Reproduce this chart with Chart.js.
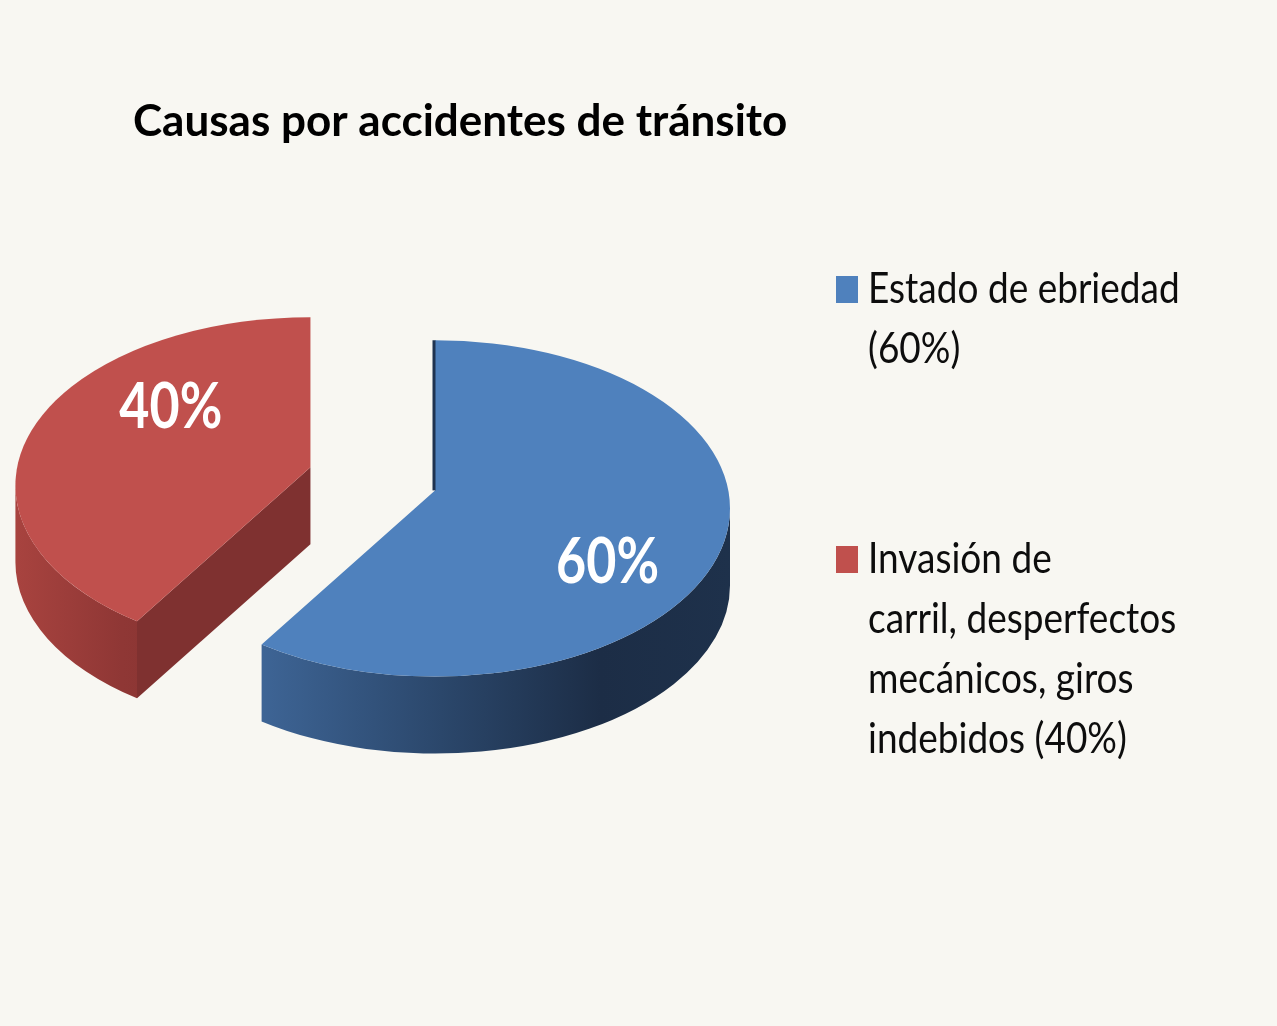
<!DOCTYPE html>
<html>
<head>
<meta charset="utf-8">
<title>Causas por accidentes de tránsito</title>
<script src="https://cdn.jsdelivr.net/npm/chart.js@4.4.0/dist/chart.umd.min.js"></script>
<style>
  html, body { margin: 0; padding: 0; background: #f8f7f2; }
  #wrap { width: 1277px; height: 1026px; position: relative; }
  canvas { display: block; }
</style>
</head>
<body>
<div id="wrap"><canvas id="pieChart"></canvas></div>
<script>
// data
const categories = [
    ['Estado de ebriedad', '(60%)'],
    ['Invasión de', 'carril, desperfectos', 'mecánicos, giros', 'indebidos (40%)']
];
const shares = [60, 40];
const sliceLabels = ['60%', '40%'];
const explode = [0, 131];

const topColors = ['#4f81bd', '#c0504d'];
const sideStops = [
    [[0, '#4570a3'], [0.2, '#3e6596'], [0.51, '#2b476b'], [0.78, '#1c2d46'], [1, '#1e314b']],
    [[0, '#a8433f'], [0.18, '#8f3735'], [1, '#5a2220']]
];
const cutColors = ['#1f3350', '#7f3130'];

const FONT = 'Lato, "Open Sans", sans-serif';

// text is a bit taller than the font in the original, so stretch it vertically
function tallText(ctx, text, x, y, sy) {
    ctx.save();
    ctx.translate(x, y);
    ctx.scale(1, sy);
    ctx.fillText(text, 0, 0);
    ctx.restore();
}

// fake 3D: draws the pie arcs as tilted ellipses with a wall under them
const pie3d = {
    id: 'pie3d',
    beforeDatasetsDraw(chart, args, opts) {
        const ctx = chart.ctx;
        const meta = chart.getDatasetMeta(0);
        const k = opts.tilt, depth = opts.depth;

        const slices = meta.data.map((arc, i) => {
            const p = arc.getProps(['x', 'y', 'startAngle', 'endAngle', 'outerRadius'], true);
            const half = (p.startAngle + p.endAngle) / 2;
            const off = arc.options.offset || 0;
            const cx = p.x + Math.cos(half) * off;
            const cy = p.y + Math.sin(half) * off * k;
            return {
                i, arc, half, cx, cy,
                sa: p.startAngle, ea: p.endAngle,
                rx: p.outerRadius,
                ry: p.outerRadius * k,
                ax: cx, ay: cy - opts.apexLift   // perspective puts the tip a little higher
            };
        });

        slices.forEach(s => {
            // radial cut faces
            [[s.sa, s.sa - Math.PI / 2], [s.ea, s.ea + Math.PI / 2]].forEach(([a, n]) => {
                if (Math.sin(n) < 0.05) return;
                const px = s.cx + s.rx * Math.cos(a), py = s.cy + s.ry * Math.sin(a);
                ctx.beginPath();
                ctx.moveTo(s.ax, s.ay);
                ctx.lineTo(px, py);
                ctx.lineTo(px, py + depth);
                ctx.lineTo(s.ax, s.ay + depth);
                ctx.closePath();
                ctx.fillStyle = cutColors[s.i];
                ctx.fill();
            });

            // outer wall, only the front half shows
            const grad = ctx.createLinearGradient(s.cx - s.rx, 0, s.cx + s.rx, 0);
            sideStops[s.i].forEach(([t, c]) => grad.addColorStop(t, c));
            for (let n = -1; n <= 1; n++) {
                const a0 = Math.max(s.sa, n * 2 * Math.PI);
                const a1 = Math.min(s.ea, n * 2 * Math.PI + Math.PI);
                if (a1 <= a0) continue;
                ctx.beginPath();
                ctx.ellipse(s.cx, s.cy, s.rx, s.ry, 0, a0, a1, false);
                ctx.lineTo(s.cx + s.rx * Math.cos(a1), s.cy + s.ry * Math.sin(a1) + depth);
                ctx.ellipse(s.cx, s.cy + depth, s.rx, s.ry, 0, a1, a0, true);
                ctx.closePath();
                ctx.fillStyle = grad;
                ctx.fill();
            }

            // top face
            ctx.beginPath();
            ctx.moveTo(s.ax, s.ay);
            ctx.ellipse(s.cx, s.cy, s.rx, s.ry, 0, s.sa, s.ea, false);
            ctx.closePath();
            ctx.fillStyle = s.arc.options.backgroundColor;
            ctx.fill();

            // edge-on cut at 12 o'clock shows as a thin dark sliver
            if (Math.abs(Math.cos(s.sa)) < 0.01) {
                ctx.beginPath();
                ctx.moveTo(s.ax - 1, s.ay);
                ctx.lineTo(s.cx - 1, s.cy - s.ry);
                ctx.strokeStyle = cutColors[s.i];
                ctx.lineWidth = 3;
                ctx.stroke();
            }
        });

        // percentage labels
        ctx.save();
        ctx.fillStyle = '#ffffff';
        ctx.font = 'bold 52px ' + FONT;
        ctx.textAlign = 'center';
        ctx.textBaseline = 'middle';
        slices.forEach(s => {
            const f = opts.labelRadius;
            const nudge = opts.labelNudge[s.i];
            const x = s.cx + s.rx * f * Math.cos(s.half) + nudge[0];
            const y = s.cy + s.ry * f * Math.sin(s.half) + nudge[1];
            tallText(ctx, sliceLabels[s.i], x, y, 1.2);
        });
        ctx.restore();
        return false;
    }
};

// legend as its own layout box on the right, so the title can use the full width
const LEGEND_W = 540;
const sideLegend = {
    id: 'sideLegend',
    beforeInit(chart) {
        const box = {
            position: 'right',
            weight: 0,
            fullSize: false,
            options: {},
            left: 0, top: 0, right: 0, bottom: 0, width: 0, height: 0,
            isHorizontal() { return false; },
            update(maxWidth, maxHeight) {
                this.width = LEGEND_W;
                this.height = maxHeight;
            },
            draw() {
                const opts = chart.options.plugins.sideLegend;
                const ctx = chart.ctx;
                const colors = chart.data.datasets[0].backgroundColor;
                ctx.save();
                ctx.font = '37px ' + FONT;
                ctx.textBaseline = 'middle';
                ctx.textAlign = 'left';
                let y = opts.y;
                chart.data.labels.forEach((lines, i) => {
                    ctx.fillStyle = colors[i];
                    ctx.fillRect(this.left + opts.boxX, y - 13, 22, 27);
                    ctx.fillStyle = '#0d0d0d';
                    lines.forEach((line, j) => {
                        tallText(ctx, line, this.left + opts.textX, y + j * opts.lineHeight, 1.17);
                    });
                    y += lines.length * opts.lineHeight + opts.itemGap;
                });
                ctx.restore();
            }
        };
        Chart.layouts.addBox(chart, box);
    }
};

const ctx = document.getElementById('pieChart').getContext('2d');
new Chart(ctx, {
    type: 'pie',
    data: {
        labels: categories,
        datasets: [{
            data: shares,
            backgroundColor: topColors,
            offset: explode,
            radius: 295,
            borderWidth: 0
        }]
    },
    options: {
        responsive: true,
        maintainAspectRatio: false,
        animation: false,
        events: [],
        layout: { padding: { left: 133, right: 0, top: 95, bottom: 178 } },
        plugins: {
            legend: { display: false },
            tooltip: { enabled: false },
            title: {
                display: true,
                text: 'Causas por accidentes de tránsito',
                align: 'start',
                color: '#000000',
                font: { family: FONT, size: 44, weight: 'bold', lineHeight: 1.2 },
                padding: { top: 0, bottom: 21 }
            },
            pie3d: {
                tilt: 0.57,
                depth: 77,
                apexLift: 18,
                labelRadius: 0.665,
                labelNudge: [[-14, 20], [47, -43]]
            },
            sideLegend: { boxX: 99, textX: 131, y: 289, lineHeight: 60, itemGap: 150 }
        }
    },
    plugins: [pie3d, sideLegend]
});
</script>
</body>
</html>
